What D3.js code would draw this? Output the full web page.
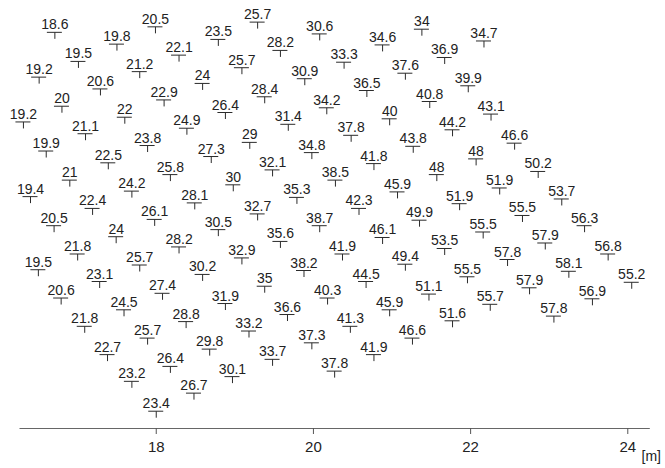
<!DOCTYPE html>
<html>
<head>
<meta charset="utf-8">
<script src="https://cdn.jsdelivr.net/npm/d3@7"></script>
<style>
  html, body { margin: 0; padding: 0; background: #fff; }
  svg { display: block; }
  text { font-family: "Liberation Sans", Arial, sans-serif; }
</style>
</head>
<body>
<svg id="chart" width="665" height="468"></svg>
<script>
// Measured values at each grid point
const values = [
  18.6, 19.5, 20.6, 22, 23.8, 25.8, 28.1, 30.5, 32.9, 35, 36.6, 37.3, 37.8,
  19.2, 20, 21.1, 22.5, 24.2, 26.1, 28.2, 30.2, 31.9, 33.2, 33.7,
  19.2, 19.9, 21, 22.4, 24, 25.7, 27.4, 28.8, 29.8, 30.1,
  19.4, 20.5, 21.8, 23.1, 24.5, 25.7, 26.4, 26.7,
  19.5, 20.6, 21.8, 22.7, 23.2, 23.4,
  19.8, 21.2, 22.9, 24.9, 27.3, 30, 32.7, 35.6, 38.2, 40.3, 41.3, 41.9,
  20.5, 22.1, 24, 26.4, 29, 32.1, 35.3, 38.7, 41.9, 44.5, 45.9, 46.6,
  23.5, 25.7, 28.4, 31.4, 34.8, 38.5, 42.3, 46.1, 49.4, 51.1, 51.6,
  25.7, 28.2, 30.9, 34.2, 37.8, 41.8, 45.9, 49.9, 53.5, 55.5, 55.7,
  30.6, 33.3, 36.5, 40, 43.8, 48, 51.9, 55.5, 57.8, 57.9, 57.8,
  34.6, 37.6, 40.8, 44.2, 48, 51.9, 55.5, 57.9, 58.1, 56.9,
  34, 36.9, 39.9, 43.1, 46.6, 50.2, 53.7, 56.3, 56.8, 55.2,
  34.7
];

// Easting of each grid point [m]
const xPos = [
  16.71, 17.01, 17.29, 17.60, 17.89, 18.18, 18.49, 18.79, 19.09, 19.38, 19.67, 19.98, 20.27,
  16.51, 16.80, 17.10, 17.39, 17.69, 17.98, 18.29, 18.59, 18.88, 19.18, 19.48,
  16.31, 16.60, 16.90, 17.19, 17.49, 17.79, 18.08, 18.38, 18.68, 18.97,
  16.40, 16.70, 17.00, 17.28, 17.59, 17.89, 18.18, 18.48,
  16.50, 16.79, 17.09, 17.38, 17.69, 18.00,
  17.50, 17.79, 18.10, 18.39, 18.70, 18.98, 19.29, 19.58, 19.88, 20.18, 20.47, 20.77,
  17.99, 18.29, 18.59, 18.88, 19.19, 19.48, 19.79, 20.08, 20.37, 20.67, 20.97, 21.26,
  18.79, 19.09, 19.38, 19.68, 19.98, 20.28, 20.58, 20.88, 21.17, 21.47, 21.77,
  19.29, 19.58, 19.89, 20.17, 20.48, 20.77, 21.07, 21.35, 21.67, 21.96, 22.25,
  20.08, 20.39, 20.68, 20.97, 21.27, 21.57, 21.86, 22.16, 22.47, 22.75, 23.06,
  20.88, 21.17, 21.48, 21.77, 22.07, 22.37, 22.66, 22.95, 23.25, 23.55,
  21.38, 21.67, 21.97, 22.26, 22.56, 22.86, 23.16, 23.45, 23.75, 24.05,
  22.17
];

// Northing of each grid point [m]
const yPos = [
  5.04, 4.67, 4.32, 3.96, 3.60, 3.23, 2.87, 2.53, 2.17, 1.81, 1.45, 1.09, 0.73,
  4.47, 4.10, 3.75, 3.38, 3.02, 2.66, 2.31, 1.96, 1.59, 1.24, 0.88,
  3.90, 3.53, 3.16, 2.80, 2.44, 2.08, 1.72, 1.36, 1.01, 0.66,
  2.95, 2.58, 2.22, 1.87, 1.51, 1.15, 0.79, 0.45,
  2.02, 1.66, 1.30, 0.94, 0.60, 0.22,
  4.89, 4.54, 4.18, 3.82, 3.46, 3.10, 2.73, 2.38, 2.01, 1.66, 1.30, 0.94,
  5.11, 4.75, 4.39, 4.02, 3.64, 3.29, 2.94, 2.58, 2.22, 1.87, 1.51, 1.15,
  4.95, 4.59, 4.22, 3.87, 3.51, 3.16, 2.80, 2.43, 2.09, 1.71, 1.37,
  5.17, 4.81, 4.45, 4.08, 3.73, 3.37, 3.01, 2.65, 2.29, 1.93, 1.58,
  5.02, 4.66, 4.30, 3.94, 3.59, 3.23, 2.86, 2.50, 2.15, 1.79, 1.43,
  4.88, 4.52, 4.16, 3.80, 3.43, 3.06, 2.71, 2.36, 2.00, 1.65,
  5.08, 4.72, 4.36, 4.00, 3.63, 3.27, 2.92, 2.58, 2.22, 1.86,
  4.93
];

const xTicks = [18, 20, 22, 24];
const xUnit = "[m]";

const points = values.map((v, i) => ({ v, x: xPos[i], y: yPos[i] }));

const svg = d3.select("#chart");

// Same metres-per-pixel on both axes
const x = d3.scaleLinear().domain([16.26, 24.28]).range([19, 649.3]);
const y = d3.scaleLinear().domain([0, 5.445]).range([428, 0]);

const markColor = "#2b2b2b";

const g = svg.append("g");

const pt = g.selectAll("g.pt")
  .data(points)
  .join("g")
  .attr("class", "pt")
  .attr("transform", d => `translate(${x(d.x)},${y(d.y)})`);

// T-shaped station marker
pt.append("line")
  .attr("x1", -7.5).attr("x2", 7.5)
  .attr("y1", 0.5).attr("y2", 0.5)
  .attr("stroke", markColor).attr("stroke-width", 1);
pt.append("line")
  .attr("x1", 0.5).attr("x2", 0.5)
  .attr("y1", 0.5).attr("y2", 7)
  .attr("stroke", markColor).attr("stroke-width", 1);

pt.append("text")
  .attr("x", 0.5)
  .attr("y", -2.5)
  .attr("text-anchor", "middle")
  .attr("font-size", 14)
  .attr("fill", "#222")
  .text(d => d.v);

// Bottom axis
const axis = svg.append("g")
  .attr("transform", "translate(0,428)")
  .call(d3.axisBottom(x).tickValues(xTicks).tickSize(6).tickSizeOuter(0).tickPadding(7).tickFormat(d3.format("d")));

axis.select(".domain").attr("stroke", "#666").attr("stroke-width", 1.2);
axis.selectAll(".tick line").attr("stroke", "#555");
axis.selectAll(".tick text")
  .attr("font-size", 15)
  .attr("font-family", "\"Liberation Sans\", Arial, sans-serif")
  .attr("fill", "#222");

svg.append("text")
  .attr("x", x(24.28) + 2)
  .attr("y", 461)
  .attr("text-anchor", "middle")
  .attr("font-size", 14)
  .attr("fill", "#222")
  .text(xUnit);
</script>
</body>
</html>
